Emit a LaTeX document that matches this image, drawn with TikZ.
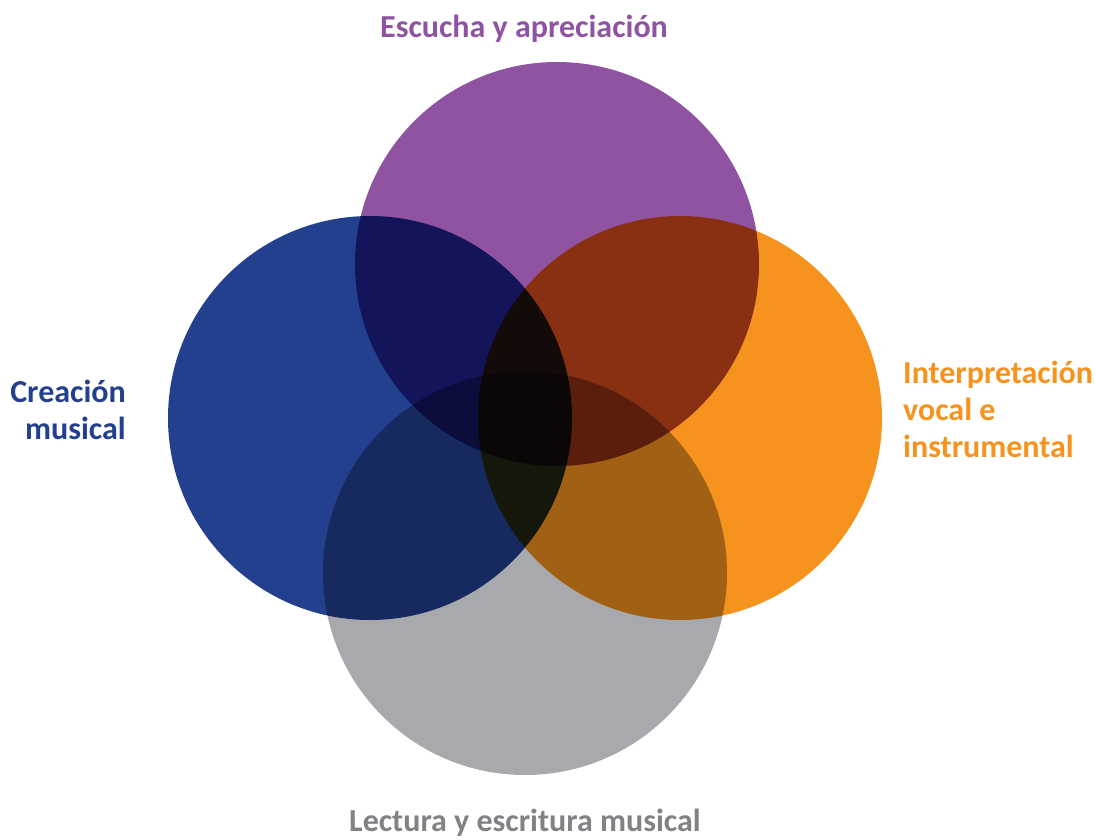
\documentclass[tikz,border=0pt]{standalone}
\usepackage{fontspec}
\setmainfont{Carlito}
\definecolor{escuchapurple}{HTML}{8F53A1}
\definecolor{creacionblue}{HTML}{23408E}
\definecolor{interporange}{HTML}{F6921E}
\definecolor{lecturagray}{HTML}{A7A9AC}
\definecolor{lecturatext}{HTML}{808285}

\begin{document}
\begin{tikzpicture}[x=1pt,y=-1pt]
      \tikzset{Area/.style={shape=circle, minimum size=404pt, inner sep=0pt, draw=none}}
      \tikzset{Label/.style={inner sep=0pt, font=\bfseries\fontsize{32}{37}\selectfont}}
      \useasboundingbox (0,0) rectangle (1095,839);

      \begin{scope}[blend group=multiply]
        \node[Area, fill=escuchapurple] (escucha) at (557,264) {};
        \node[Area, fill=creacionblue] (creacion) at (370,418) {};
        \node[Area, fill=interporange] (interp) at (680,418) {};
        \node[Area, fill=lecturagray] (lectura) at (525,573) {};
      \end{scope}

      % multi-line labels are placed by their last baseline
      \node[Label, anchor=base, text=escuchapurple] (tescucha) at (524,37) {Escucha y apreciación};
      \node[Label, anchor=base east, align=right, text=creacionblue] (tcreacion) at (126,439) {Creación\\musical};
      \node[Label, anchor=base west, align=left, text=interporange] (tinterp) at (903,457) {Interpretación\\vocal e\\instrumental};
      \node[Label, anchor=base, text=lecturatext] (tlectura) at (525,831) {Lectura y escritura musical};
\end{tikzpicture}
\end{document}
